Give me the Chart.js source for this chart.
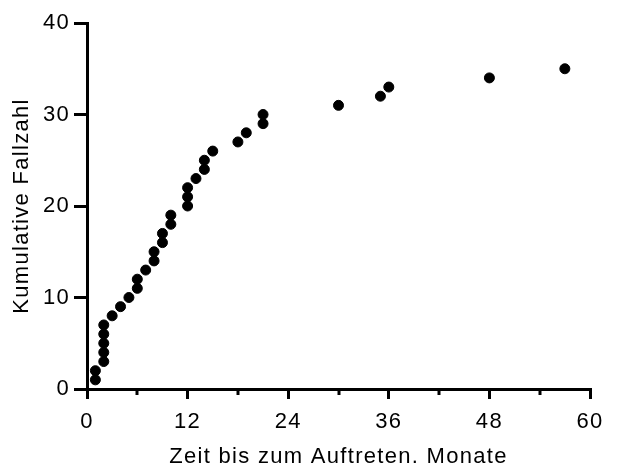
<!DOCTYPE html>
<html>
<head>
<meta charset="utf-8">
<script src="https://cdn.jsdelivr.net/npm/chart.js@4"></script>
<style>
  body { margin: 0; background: #fff; }
  #wrap { width: 625px; height: 468px; }
</style>
</head>
<body>
<div id="wrap"><canvas id="grafica"></canvas></div>
<script>
// Zeit bis zum Auftreten (Monate) und kumulative Fallzahl
const monate = [1, 1, 2, 2, 2, 2, 2, 3, 4, 5, 6, 6, 7, 8, 8, 9, 9, 10, 10, 12, 12, 12, 13, 14, 14, 15, 18, 19, 21, 21, 30, 35, 36, 48, 57]
const fallzahl = [1, 2, 3, 4, 5, 6, 7, 8, 9, 10, 11, 12, 13, 14, 15, 16, 17, 18, 19, 20, 21, 22, 23, 24, 25, 26, 27, 28, 29, 30, 31, 32, 33, 34, 35]

const xTicks = [0, 12, 24, 36, 48, 60]
const xMinor = [6, 18, 30, 42, 54]
const yTicks = [0, 10, 20, 30, 40]

const punkte = []
for (let i = 0; i < monate.length; i++) {
    punkte.push({ x: monate[i], y: fallzahl[i] })
}

// etwas Buchstabenabstand wie im Original
const abstand = {
    id: 'abstand',
    beforeDraw(chart) {
        chart.ctx.letterSpacing = '1.3px'
    }
}

// kleine Zwischenstriche auf der x-Achse
const minorTicks = {
    id: 'minorTicks',
    afterDraw(chart) {
        const ctx = chart.ctx
        const sx = chart.scales.x
        const yPos = sx.top
        ctx.save()
        ctx.strokeStyle = '#000'
        ctx.lineWidth = 3
        for (let i = 0; i < xMinor.length; i++) {
            const px = Math.round(sx.getPixelForValue(xMinor[i]))
            ctx.beginPath()
            ctx.moveTo(px, yPos)
            ctx.lineTo(px, yPos + 6)
            ctx.stroke()
        }
        ctx.restore()
    }
}

const fuente = "'Liberation Sans', Arial, Helvetica, sans-serif"

new Chart(document.getElementById('grafica'), {
    type: 'scatter',
    data: {
        datasets: [{
            data: punkte,
            backgroundColor: '#000',
            borderColor: '#000',
            pointRadius: 5,
            pointHoverRadius: 5,
            clip: false
        }]
    },
    options: {
        responsive: true,
        maintainAspectRatio: false,
        animation: false,
        layout: { padding: { left: 0, right: 35, top: 23, bottom: 0 } },
        plugins: {
            legend: { display: false },
            tooltip: { enabled: false }
        },
        scales: {
            x: {
                type: 'linear',
                min: 0,
                max: 60,
                afterBuildTicks: (axis) => { axis.ticks = xTicks.map(v => ({ value: v })) },
                afterFit: (axis) => { axis.height = 79 },
                border: { color: '#000', width: 3 },
                grid: { drawOnChartArea: false, color: '#000', lineWidth: 3, tickLength: 10 },
                ticks: { color: '#000', font: { family: fuente, size: 22 }, padding: 10, maxRotation: 0 },
                title: {
                    display: true,
                    text: 'Zeit bis zum Auftreten. Monate',
                    color: '#000',
                    font: { family: fuente, size: 22, lineHeight: 1 },
                    padding: { top: 0, bottom: 0 }
                }
            },
            y: {
                type: 'linear',
                min: 0,
                max: 40,
                afterBuildTicks: (axis) => { axis.ticks = yTicks.map(v => ({ value: v })) },
                afterFit: (axis) => { axis.width = 87 },
                border: { color: '#000', width: 3 },
                grid: { drawOnChartArea: false, color: '#000', lineWidth: 3, tickLength: 13 },
                ticks: { color: '#000', font: { family: fuente, size: 22 }, padding: 4 },
                title: {
                    display: true,
                    text: 'Kumulative Fallzahl',
                    color: '#000',
                    font: { family: fuente, size: 22, lineHeight: 1 },
                    padding: { top: 11, bottom: 0 }
                }
            }
        }
    },
    plugins: [abstand, minorTicks]
})
</script>
</body>
</html>
